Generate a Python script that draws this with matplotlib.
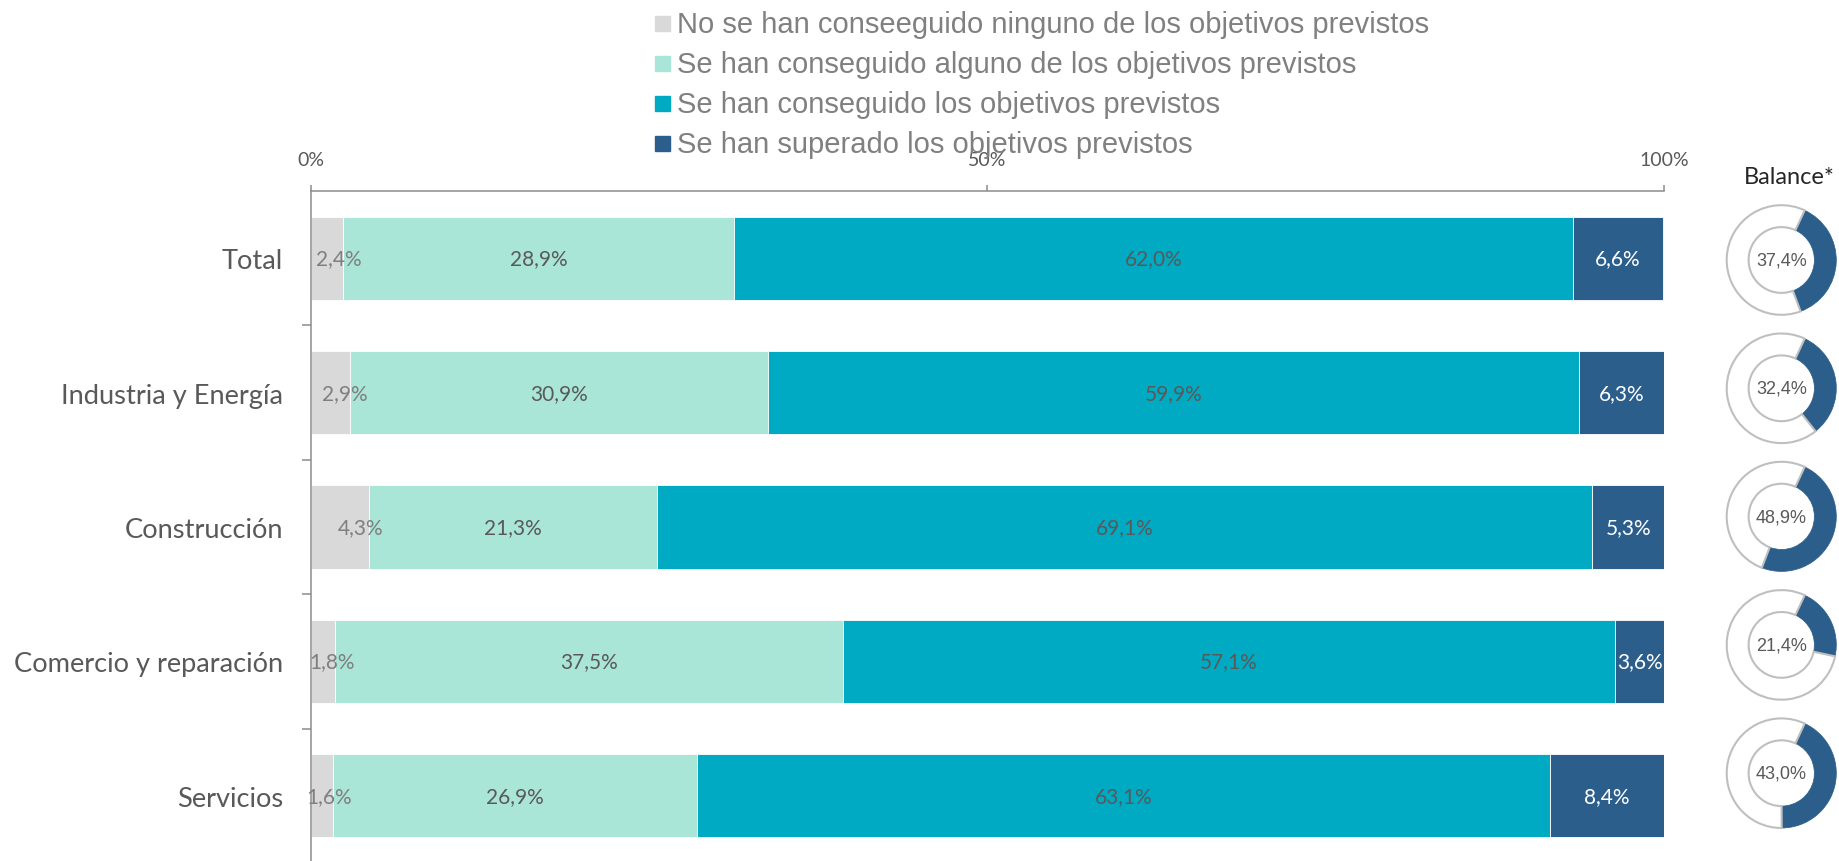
import numpy as np
import matplotlib
matplotlib.use("Agg")
import matplotlib.pyplot as plt
from matplotlib.patches import Rectangle

# datos por sector (%)
sectores = ["Total", "Industria y Energía", "Construcción", "Comercio y reparación", "Servicios"]
ninguno = [2.4, 2.9, 4.3, 1.8, 1.6]
alguno = [28.9, 30.9, 21.3, 37.5, 26.9]
conseguido = [62.0, 59.9, 69.1, 57.1, 63.1]
superado = [6.6, 6.3, 5.3, 3.6, 8.4]
balance = [37.4, 32.4, 48.9, 21.4, 43.0]

leyenda = ["No se han conseeguido ninguno de los objetivos previstos",
           "Se han conseguido alguno de los objetivos previstos",
           "Se han conseguido los objetivos previstos",
           "Se han superado los objetivos previstos"]
colores = ["#D9D9D9", "#AAE6D8", "#00AAC2", "#2B5E8A"]
col_texto = ["#7F7F7F", "#595959", "#595959", "white"]

W, H = 1839, 862
fig = plt.figure(figsize=(W / 100, H / 100), dpi=100)


def px(x0, y0, w, h):
    # caja en pixeles (desde arriba) -> fraccion de figura
    return [x0 / W, 1 - (y0 + h) / H, w / W, h / H]


ax = fig.add_axes(px(311, 192, 1353, 672))

y = np.arange(len(sectores))
series = [ninguno, alguno, conseguido, superado]
izq = np.zeros(len(sectores))
for k, vals in enumerate(series):
    vals = np.array(vals)
    ax.barh(y, vals, left=izq, height=0.62, color=colores[k],
            edgecolor="white", linewidth=0.6, zorder=2)
    for i, v in enumerate(vals):
        txt = f"{v:.1f}%".replace(".", ",")
        if k == 0:
            xc = v * 0.85
        else:
            xc = izq[i] + v / 2
        ax.text(xc, y[i], txt, ha="center", va="center", fontsize=15,
                family="Lato", color=col_texto[k], zorder=3)
    izq += vals

ax.set_xlim(0, 100)
ax.set_ylim(len(sectores) - 0.5, -0.5)
ax.xaxis.tick_top()
ax.set_xticks([0, 50, 100])
ax.set_xticklabels(["0%", "50%", "100%"])
ax.tick_params(axis="x", direction="out", length=4.5, width=1.1, color="#8C8C8C",
               labelsize=14, labelcolor="#595959", pad=12)
for lab in ax.get_xticklabels():
    lab.set_family("Lato")

ax.set_yticks(y)
ax.set_yticklabels(sectores)
ax.set_yticks(y[:-1] + 0.5, minor=True)
ax.tick_params(axis="y", which="major", length=0, pad=20, labelsize=19.6,
               labelcolor="#595959")
ax.tick_params(axis="y", which="minor", direction="out", length=6.5, width=1.1,
               color="#8C8C8C")
for lab in ax.get_yticklabels():
    lab.set_family("Lato")

for s in ["right", "bottom"]:
    ax.spines[s].set_visible(False)
for s in ["top", "left"]:
    ax.spines[s].set_color("#8C8C8C")
    ax.spines[s].set_linewidth(1.1)

# leyenda arriba
for k, etiqueta in enumerate(leyenda):
    base = 33 + 40 * k
    fig.add_artist(Rectangle((655 / W, 1 - (base - 1) / H), 15 / W, 15 / H,
                             transform=fig.transFigure, color=colores[k]))
    fig.text(677 / W, 1 - base / H, etiqueta, ha="left", va="baseline",
             fontsize=21, family="Liberation Sans", color="#808080")

# anillos de balance
fig.text(1789.5 / W, 1 - 177 / H, "Balance*", ha="center", va="center",
         fontsize=17, family="Lato", color="#262626")
for i, b in enumerate(balance):
    cy = 261 + 128.3 * i
    r = 57
    axd = fig.add_axes(px(1781.5 - r, cy - r, 2 * r, 2 * r))
    wedges, _ = axd.pie([b, 100 - b], startangle=65, counterclock=False, radius=1,
                        colors=[colores[3], "white"],
                        wedgeprops=dict(width=0.4, linewidth=1.5))
    wedges[0].set_edgecolor(colores[3])
    wedges[0].set_linewidth(0.5)
    wedges[1].set_edgecolor("#BFBFBF")
    wedges[1].set_zorder(3)
    axd.set_xlim(-1.04, 1.04)
    axd.set_ylim(-1.04, 1.04)
    axd.set_aspect("equal")
    axd.axis("off")
    axd.text(0, 0, f"{b:.1f}%".replace(".", ","), ha="center", va="center",
             fontsize=13, family="Liberation Sans", color="#595959")

fig.savefig("out.png", dpi=100)
